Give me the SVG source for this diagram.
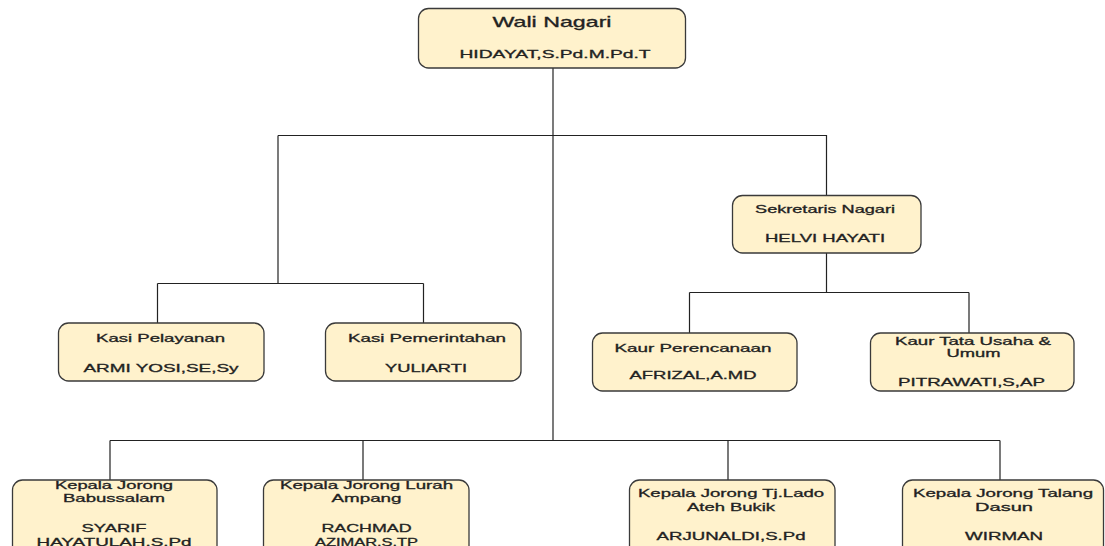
<svg xmlns="http://www.w3.org/2000/svg" width="1105" height="546" viewBox="0 0 1105 546">
<style>
.box{fill:#fff2cc;stroke:#3a3a3a;stroke-width:1.3}
.t{font-family:"Liberation Sans",Arial,sans-serif;font-size:11px;fill:#222;stroke:#222;stroke-width:0.3;text-anchor:middle}
.big{font-size:14px}
.c{fill:none;stroke:#222;stroke-width:1.2}
</style>
<rect width="1105" height="546" fill="#ffffff"/>
<g id="connectors">
<path class="c" d="M553 68V440"/>
<path class="c" d="M278 135.5H826.5V195"/>
<path class="c" d="M278 135.5V283.5"/>
<path class="c" d="M157.5 283.5H423.5M157.5 283.5V323M423.5 283.5V323"/>
<path class="c" d="M826.5 253V292.5"/>
<path class="c" d="M689.5 292.5H969M689.5 292.5V333M969 292.5V333"/>
<path class="c" d="M110 440.5H1000M110 440.5V480M363 440.5V480M728 440.5V480M1000 440.5V480"/>
</g>
<g id="wali">
<rect class="box" x="418.5" y="8.5" width="267" height="59.5" rx="10"/>
<text class="t big" transform="matrix(1.67 0 0 1 552 0)" x="0" y="27" textLength="71.3" lengthAdjust="spacingAndGlyphs">Wali Nagari</text>
<text class="t" transform="matrix(1.67 0 0 1 555 0)" x="0" y="58.5" textLength="114.4" lengthAdjust="spacingAndGlyphs">HIDAYAT,S.Pd.M.Pd.T</text>
</g>
<g id="sekretaris">
<rect class="box" x="732.5" y="195.5" width="188.5" height="57.5" rx="10"/>
<text class="t" transform="matrix(1.67 0 0 1 825 0)" x="0" y="213" textLength="83.8" lengthAdjust="spacingAndGlyphs">Sekretaris Nagari</text>
<text class="t" transform="matrix(1.67 0 0 1 825 0)" x="0" y="242" textLength="71.9" lengthAdjust="spacingAndGlyphs">HELVI HAYATI</text>
</g>
<g id="kasi-pelayanan">
<rect class="box" x="58.5" y="323" width="205.5" height="58" rx="10"/>
<text class="t" transform="matrix(1.67 0 0 1 160.5 0)" x="0" y="342" textLength="77.2" lengthAdjust="spacingAndGlyphs">Kasi Pelayanan</text>
<text class="t" transform="matrix(1.67 0 0 1 161 0)" x="0" y="372" textLength="92.8" lengthAdjust="spacingAndGlyphs">ARMI YOSI,SE,Sy</text>
</g>
<g id="kasi-pemerintahan">
<rect class="box" x="325.5" y="323" width="195.5" height="58" rx="10"/>
<text class="t" transform="matrix(1.67 0 0 1 427 0)" x="0" y="342" textLength="94.6" lengthAdjust="spacingAndGlyphs">Kasi Pemerintahan</text>
<text class="t" transform="matrix(1.67 0 0 1 426 0)" x="0" y="372" textLength="49.1" lengthAdjust="spacingAndGlyphs">YULIARTI</text>
</g>
<g id="kaur-perencanaan">
<rect class="box" x="592.5" y="333" width="204.5" height="58" rx="10"/>
<text class="t" transform="matrix(1.67 0 0 1 693 0)" x="0" y="352" textLength="94" lengthAdjust="spacingAndGlyphs">Kaur Perencanaan</text>
<text class="t" transform="matrix(1.67 0 0 1 693 0)" x="0" y="379" textLength="76" lengthAdjust="spacingAndGlyphs">AFRIZAL,A.MD</text>
</g>
<g id="kaur-tata-usaha">
<rect class="box" x="870.5" y="333" width="203.5" height="58" rx="10"/>
<text class="t" transform="matrix(1.67 0 0 1 973 0)" x="0" y="345" textLength="93.4" lengthAdjust="spacingAndGlyphs">Kaur Tata Usaha &amp;</text>
<text class="t" transform="matrix(1.67 0 0 1 973.5 0)" x="0" y="357.5" textLength="32.3" lengthAdjust="spacingAndGlyphs">Umum</text>
<text class="t" transform="matrix(1.67 0 0 1 971.5 0)" x="0" y="386" textLength="88" lengthAdjust="spacingAndGlyphs">PITRAWATI,S,AP</text>
</g>
<g id="jorong-babussalam">
<rect class="box" x="12.5" y="480" width="204.5" height="80" rx="10"/>
<text class="t" transform="matrix(1.67 0 0 1 114 0)" x="0" y="489" textLength="70.7" lengthAdjust="spacingAndGlyphs">Kepala Jorong</text>
<text class="t" transform="matrix(1.67 0 0 1 114 0)" x="0" y="502" textLength="61.1" lengthAdjust="spacingAndGlyphs">Babussalam</text>
<text class="t" transform="matrix(1.67 0 0 1 114 0)" x="0" y="532" textLength="38.9" lengthAdjust="spacingAndGlyphs">SYARIF</text>
<text class="t" transform="matrix(1.67 0 0 1 114 0)" x="0" y="546" textLength="92.8" lengthAdjust="spacingAndGlyphs">HAYATULAH.S.Pd</text>
</g>
<g id="jorong-lurah-ampang">
<rect class="box" x="263.5" y="480" width="205.5" height="80" rx="10"/>
<text class="t" transform="matrix(1.67 0 0 1 366.5 0)" x="0" y="489" textLength="103.6" lengthAdjust="spacingAndGlyphs">Kepala Jorong Lurah</text>
<text class="t" transform="matrix(1.67 0 0 1 366.5 0)" x="0" y="502" textLength="41.9" lengthAdjust="spacingAndGlyphs">Ampang</text>
<text class="t" transform="matrix(1.67 0 0 1 366.5 0)" x="0" y="532" textLength="53.9" lengthAdjust="spacingAndGlyphs">RACHMAD</text>
<text class="t" transform="matrix(1.67 0 0 1 366.5 0)" x="0" y="546" textLength="61.7" lengthAdjust="spacingAndGlyphs">AZIMAR.S.TP</text>
</g>
<g id="jorong-tj-lado">
<rect class="box" x="629.5" y="480" width="205.5" height="80" rx="10"/>
<text class="t" transform="matrix(1.67 0 0 1 731 0)" x="0" y="497" textLength="111.4" lengthAdjust="spacingAndGlyphs">Kepala Jorong Tj.Lado</text>
<text class="t" transform="matrix(1.67 0 0 1 731 0)" x="0" y="511" textLength="52.7" lengthAdjust="spacingAndGlyphs">Ateh Bukik</text>
<text class="t" transform="matrix(1.67 0 0 1 731 0)" x="0" y="540" textLength="89.2" lengthAdjust="spacingAndGlyphs">ARJUNALDI,S.Pd</text>
</g>
<g id="jorong-talang-dasun">
<rect class="box" x="902.5" y="480" width="201" height="80" rx="10"/>
<text class="t" transform="matrix(1.67 0 0 1 1003 0)" x="0" y="497" textLength="107.8" lengthAdjust="spacingAndGlyphs">Kepala Jorong Talang</text>
<text class="t" transform="matrix(1.67 0 0 1 1004 0)" x="0" y="511" textLength="34.7" lengthAdjust="spacingAndGlyphs">Dasun</text>
<text class="t" transform="matrix(1.67 0 0 1 1004 0)" x="0" y="540" textLength="46.7" lengthAdjust="spacingAndGlyphs">WIRMAN</text>
</g>
</svg>
